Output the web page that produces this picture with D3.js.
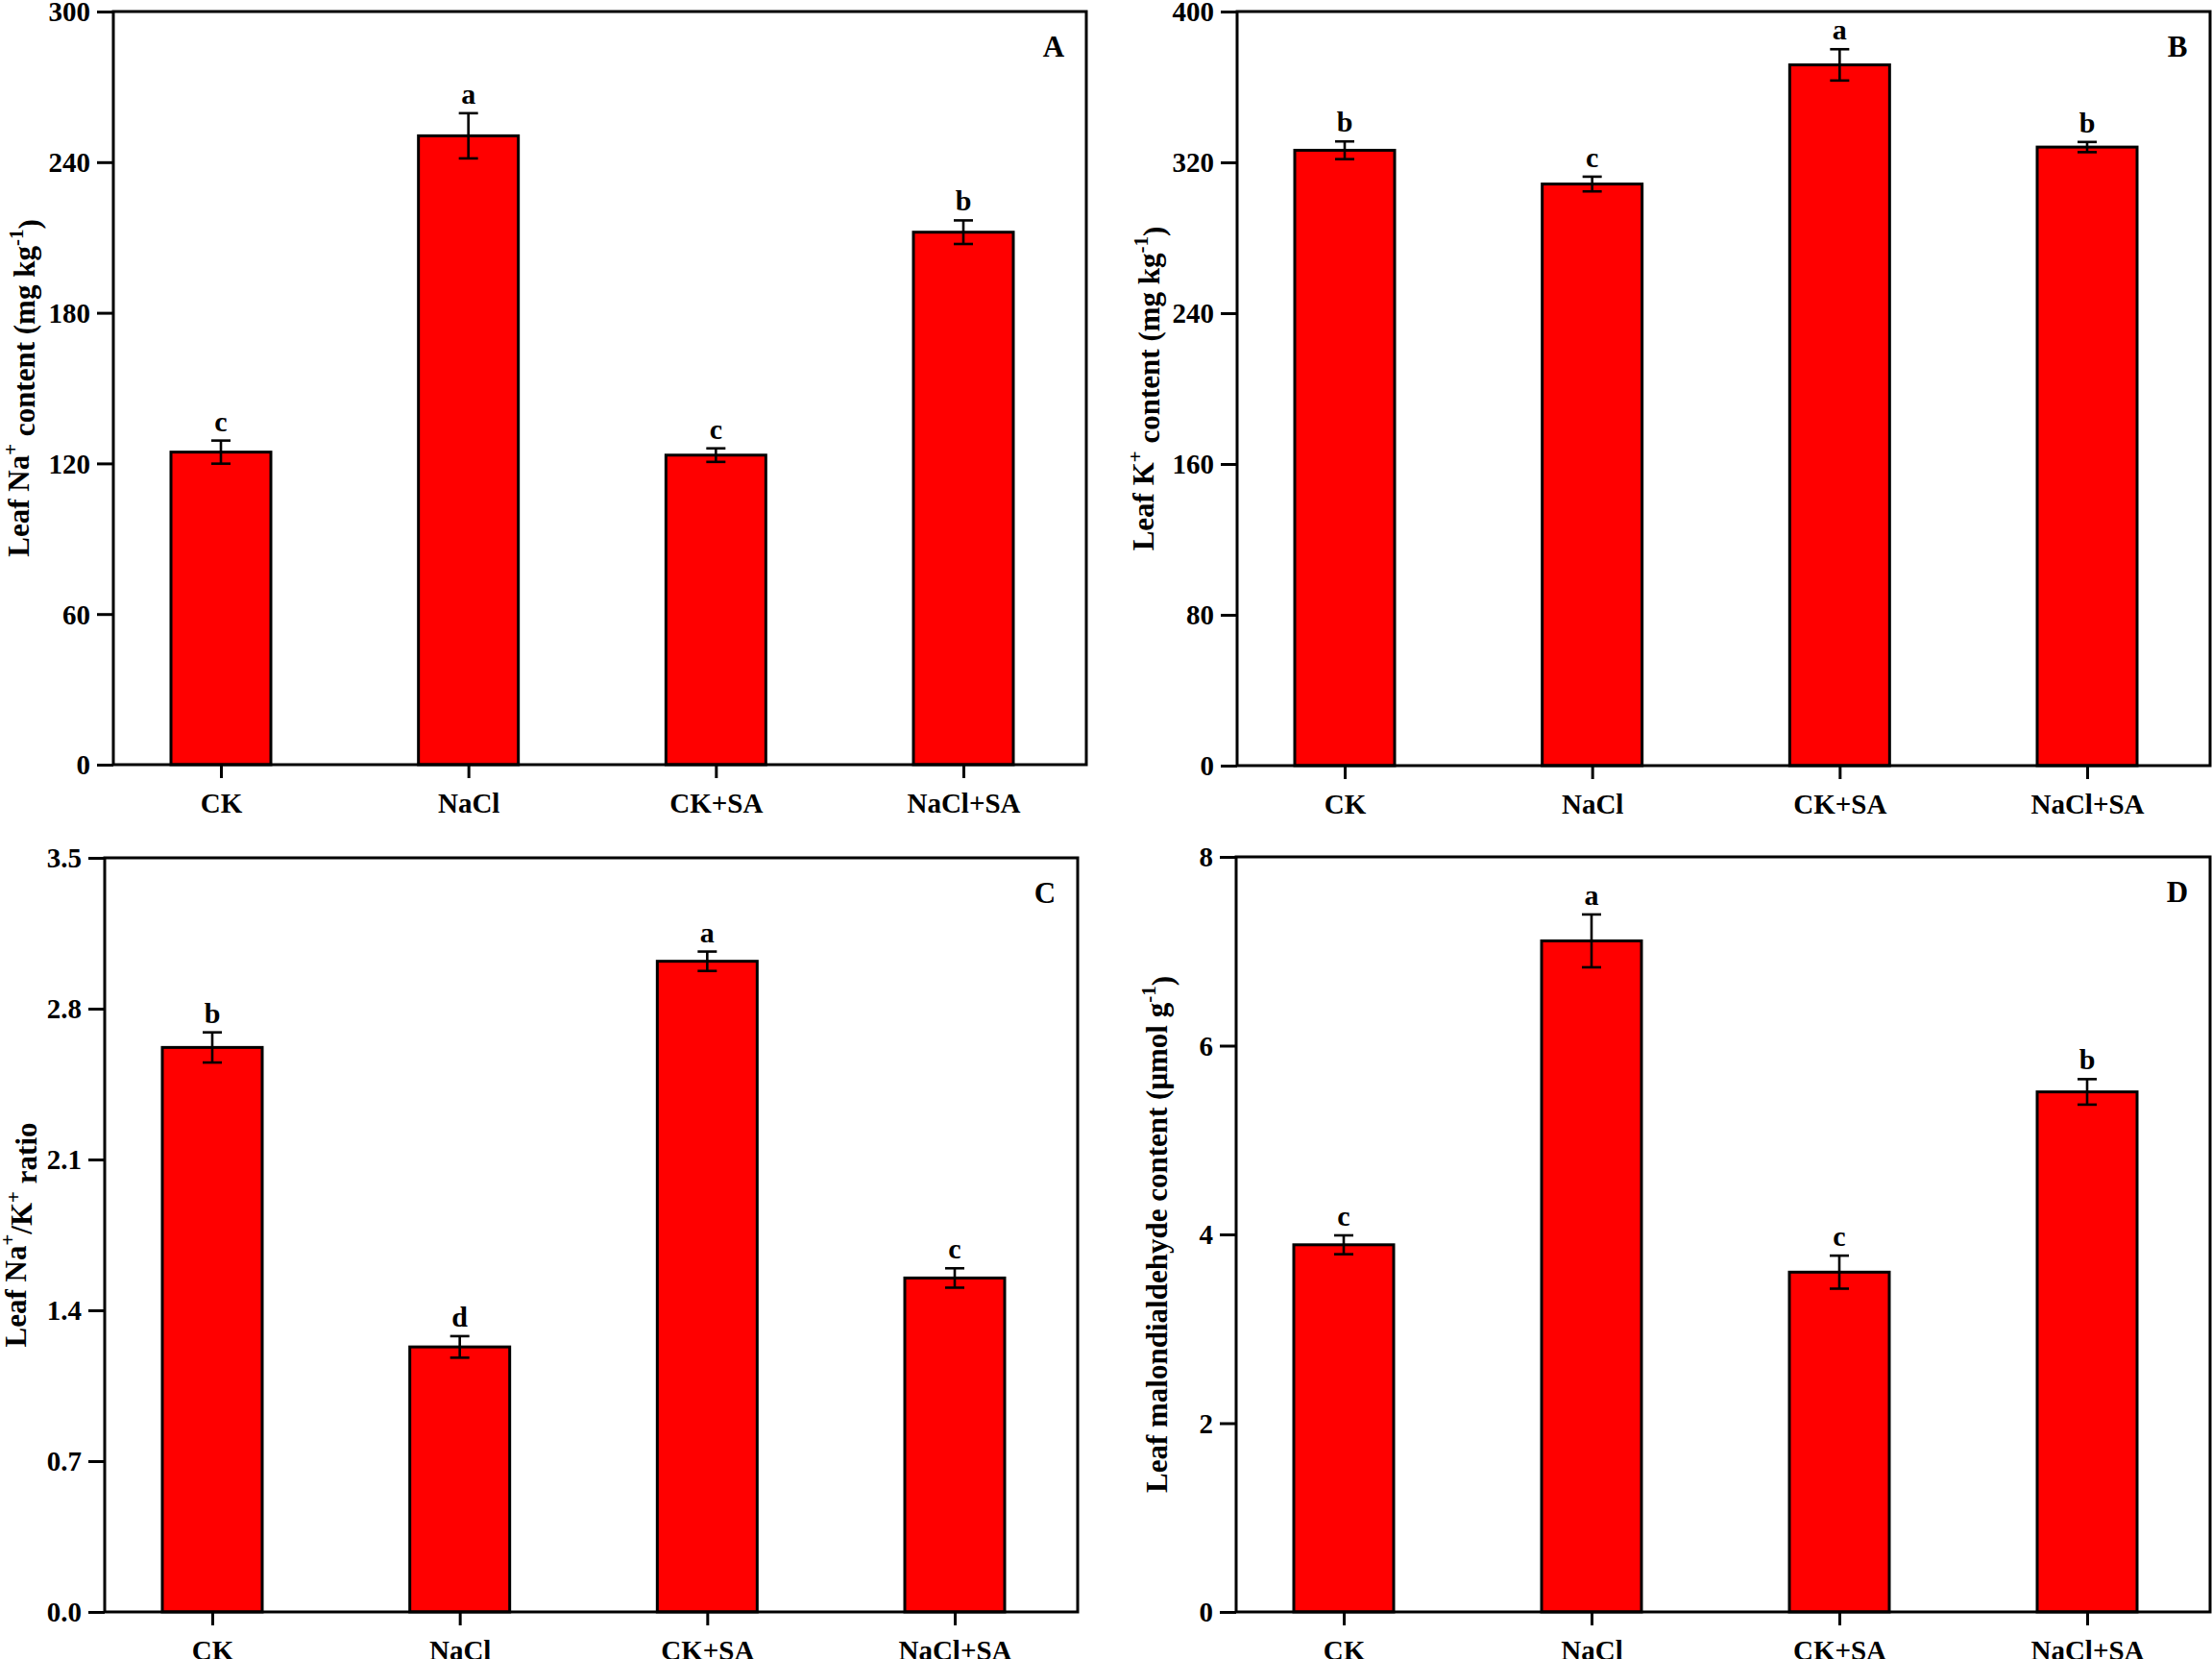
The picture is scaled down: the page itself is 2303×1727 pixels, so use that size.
<!DOCTYPE html>
<html>
<head>
<meta charset="utf-8">
<script src="https://cdn.jsdelivr.net/npm/d3@7"></script>
<style>
  body { margin: 0; background: #fff; }
  text { font-family: "Liberation Serif", "Times New Roman", serif; font-weight: bold; fill: #000; }
</style>
</head>
<body>
<svg id="fig" width="2303" height="1727"></svg>
<script>
// treatments on the x axis
var categories = ["CK", "NaCl", "CK+SA", "NaCl+SA"]

// A: leaf Na+ content (mg kg-1)
var naContent = [124.5, 250.5, 123.3, 212.1]
var naErr = [4.6, 9.0, 2.7, 4.7]
var naLetters = ["c", "a", "c", "b"]
var naTicks = [0, 60, 120, 180, 240, 300]

// B: leaf K+ content (mg kg-1)
var kContent = [326.4, 308.5, 371.7, 328.1]
var kErr = [4.7, 3.9, 8.3, 2.7]
var kLetters = ["b", "c", "a", "b"]
var kTicks = [0, 80, 160, 240, 320, 400]

// C: leaf Na+/K+ ratio
var ratio = [2.62, 1.23, 3.02, 1.55]
var ratioErr = [0.07, 0.05, 0.045, 0.045]
var ratioLetters = ["b", "d", "a", "c"]
var ratioTicks = [0, 0.7, 1.4, 2.1, 2.8, 3.5]

// D: leaf malondialdehyde content (umol g-1)
var mda = [3.89, 7.11, 3.60, 5.51]
var mdaErr = [0.10, 0.28, 0.175, 0.135]
var mdaLetters = ["c", "a", "c", "b"]
var mdaTicks = [0, 2, 4, 6, 8]

var svg = d3.select("#fig")

// title pieces: [text, isSuperscript]
var panels = [
    { key: "A", values: naContent, errs: naErr, letters: naLetters, ticks: naTicks, fmt: d3.format("d"),
      box: { left: 118, right: 1131, top: 12, bottom: 796 }, titleOff: 99,
      title: [["Leaf Na", 0], ["+", 1], [" content (mg kg", 0], ["-1", 1], [")", 0]] },
    { key: "B", values: kContent, errs: kErr, letters: kLetters, ticks: kTicks, fmt: d3.format("d"),
      box: { left: 1288, right: 2301, top: 12, bottom: 797 }, titleOff: 98,
      title: [["Leaf K", 0], ["+", 1], [" content (mg kg", 0], ["-1", 1], [")", 0]] },
    { key: "C", values: ratio, errs: ratioErr, letters: ratioLetters, ticks: ratioTicks, fmt: d3.format(".1f"),
      box: { left: 109, right: 1122, top: 893, bottom: 1678 }, titleOff: 93,
      title: [["Leaf Na", 0], ["+", 1], ["/K", 0], ["+", 1], [" ratio", 0]] },
    { key: "D", values: mda, errs: mdaErr, letters: mdaLetters, ticks: mdaTicks, fmt: d3.format("d"),
      box: { left: 1287, right: 2301, top: 892, bottom: 1678 }, titleOff: 83,
      title: [["Leaf malondialdehyde content (\u03bcmol g", 0], ["-1", 1], [")", 0]] }
]

panels.forEach(function(p) { drawPanel(p) })

function drawPanel(p) {
    var b = p.box
    var g = svg.append("g").attr("class", "panel " + p.key)

    var x = d3.scalePoint()
        .domain(categories)
        .range([b.left + 112, b.right - 128])
    var y = d3.scaleLinear()
        .domain([p.ticks[0], p.ticks[p.ticks.length - 1]])
        .range([b.bottom, b.top])

    var barW = 104

    // bars
    g.append("g").selectAll("rect")
        .data(p.values)
        .enter().append("rect")
        .attr("x", function(d, i) { return x(categories[i]) - barW / 2 })
        .attr("y", function(d) { return y(d) })
        .attr("width", barW)
        .attr("height", function(d) { return y(0) - y(d) })
        .style("fill", "#ff0000")
        .style("stroke", "#000")
        .style("stroke-width", 3)

    // error bars
    var eb = g.append("g").selectAll("g")
        .data(p.values)
        .enter().append("g")
        .style("stroke", "#000")
        .style("stroke-width", 2.6)
    eb.append("line")
        .attr("x1", function(d, i) { return x(categories[i]) })
        .attr("x2", function(d, i) { return x(categories[i]) })
        .attr("y1", function(d, i) { return y(d + p.errs[i]) })
        .attr("y2", function(d, i) { return y(d - p.errs[i]) })
    eb.selectAll(".cap")
        .data(function(d, i) { return [[i, d + p.errs[i]], [i, d - p.errs[i]]] })
        .enter().append("line")
        .attr("class", "cap")
        .attr("x1", function(d) { return x(categories[d[0]]) - 10 })
        .attr("x2", function(d) { return x(categories[d[0]]) + 10 })
        .attr("y1", function(d) { return y(d[1]) })
        .attr("y2", function(d) { return y(d[1]) })

    // significance letters
    g.append("g").selectAll("text")
        .data(p.letters)
        .enter().append("text")
        .attr("x", function(d, i) { return x(categories[i]) })
        .attr("y", function(d, i) { return y(p.values[i] + p.errs[i]) - 10 })
        .attr("text-anchor", "middle")
        .style("font-size", "30px")
        .text(function(d) { return d })

    // frame
    g.append("rect")
        .attr("x", b.left)
        .attr("y", b.top)
        .attr("width", b.right - b.left)
        .attr("height", b.bottom - b.top)
        .style("fill", "none")
        .style("stroke", "#000")
        .style("stroke-width", 3)

    // y axis
    var yAxis = g.append("g")
        .attr("transform", "translate(" + b.left + ",0)")
        .call(d3.axisLeft(y).tickValues(p.ticks).tickFormat(p.fmt).tickSize(17).tickSizeOuter(0).tickPadding(7))
    yAxis.select(".domain").remove()
    yAxis.selectAll("line").style("stroke-width", 3)
    yAxis.selectAll("text").style("font-size", "29px").attr("font-family", null).attr("dy", "0.34em")

    // x axis
    var xAxis = g.append("g")
        .attr("transform", "translate(0," + b.bottom + ")")
        .call(d3.axisBottom(x).tickSize(14).tickSizeOuter(0).tickPadding(15))
    xAxis.select(".domain").remove()
    xAxis.selectAll("line").style("stroke-width", 3)
    xAxis.selectAll("text").style("font-size", "29px").attr("font-family", null)

    // panel letter
    g.append("text")
        .attr("x", b.right - 34)
        .attr("y", b.top + 47)
        .attr("text-anchor", "middle")
        .style("font-size", "31px")
        .text(p.key)

    // y title with superscripts
    var cy = (b.top + b.bottom) / 2
    var t = g.append("text")
        .attr("transform", "translate(" + (b.left - p.titleOff + 11) + "," + cy + ") rotate(-90)")
        .attr("text-anchor", "middle")
        .style("font-size", "31px")
    p.title.forEach(function(part, i) {
        var s = t.append("tspan").text(part[0])
        if (part[1]) {
            s.attr("dy", "-0.55em").style("font-size", "21px")
        } else if (i > 0 && p.title[i - 1][1]) {
            s.attr("dy", "0.55em")
        }
    })
}
</script>
</body>
</html>
